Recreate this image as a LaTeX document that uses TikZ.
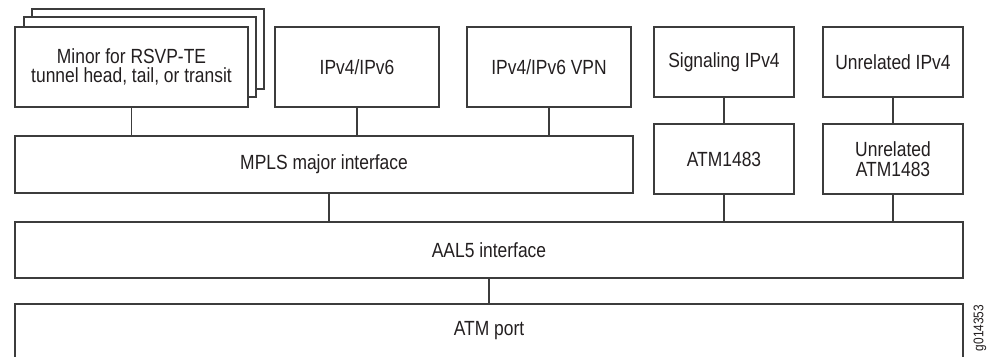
\documentclass[tikz,border=0pt]{standalone}
\usepackage{fontspec}
\setmainfont{Liberation Sans}[FakeStretch=0.85]
\definecolor{linec}{HTML}{3C3C3C}
\definecolor{textc}{HTML}{231F20}
\begin{document}
\begin{tikzpicture}[x=1pt,y=-1pt,
  box/.style={draw=linec, line width=1.2pt, fill=white, inner sep=0pt, outer sep=0pt,
    align=center, text=textc, font=\fontsize{20.5}{19.5}\selectfont},
  conn/.style={draw=linec, line width=1.2pt}]
\useasboundingbox (0,0) rectangle (987,356);
% stacked minor boxes
\node[box, minimum width=232pt, minimum height=80pt] (back) at (148,49) {};
\node[box, minimum width=232pt, minimum height=80pt] (mid) at (140,57) {};
\node[box, minimum width=233pt, minimum height=80pt] (minor) at (131.5,67) {Minor for RSVP-TE\\tunnel head, tail, or transit};
\node[box, minimum width=164pt, minimum height=80pt] (ip) at (357,67) {IPv4/IPv6};
\node[box, minimum width=164pt, minimum height=80pt] (vpn) at (549,67) {IPv4/IPv6 VPN};
\node[box, minimum width=140pt, minimum height=70pt] (sig) at (724,62) {Signaling IPv4};
\node[box, minimum width=140pt, minimum height=70pt] (unr) at (893,62) {Unrelated IPv4};
\node[box, minimum width=618pt, minimum height=57pt] (mpls) at (324,164.5) {MPLS major interface};
\node[box, minimum width=140pt, minimum height=70pt] (atm) at (724,159) {ATM1483};
\node[box, minimum width=140pt, minimum height=70pt] (uatm) at (893,159) {Unrelated\\ATM1483};
\node[box, minimum width=948pt, minimum height=56pt] (aal) at (489,250) {AAL5 interface};
\node[box, minimum width=948pt, minimum height=54pt] (port) at (489,331) {ATM port};
% connectors
\draw[conn] (minor.south) -- (minor.south |- mpls.north);
\draw[conn] (ip.south) -- (ip.south |- mpls.north);
\draw[conn] (vpn.south) -- (vpn.south |- mpls.north);
\draw[conn] (sig.south) -- (atm.north);
\draw[conn] (unr.south) -- (uatm.north);
\draw[conn] ([xshift=5pt]mpls.south) -- ([xshift=5pt]mpls.south |- aal.north);
\draw[conn] (atm.south) -- (atm.south |- aal.north);
\draw[conn] (uatm.south) -- (uatm.south |- aal.north);
\draw[conn] (aal.south) -- (port.north);
% figure id
\node[rotate=90, inner sep=0pt, text=textc, font=\fontsize{14}{14}\selectfont] (fid) at (980,328) {g014353};
\end{tikzpicture}
\end{document}
